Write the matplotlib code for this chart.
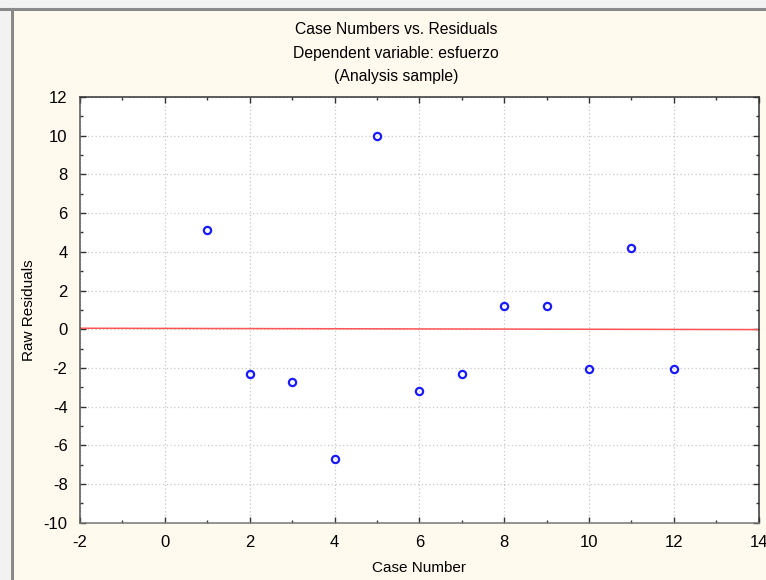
import matplotlib
matplotlib.use("Agg")
import matplotlib.pyplot as plt
from matplotlib.lines import Line2D
from matplotlib.ticker import MultipleLocator

# data
case_number = [1, 2, 3, 4, 5, 6, 7, 8, 9, 10, 11, 12]
raw_residuals = [5.14, -2.33, -2.71, -6.71, 9.98, -3.17, -2.33, 1.22, 1.22, -2.04, 4.18, -2.04]
fit_x = [-2, 14]
fit_y = [0.05, -0.02]

title_lines = ["Case Numbers vs. Residuals", "Dependent variable: esfuerzo", "(Analysis sample)"]

plt.rcParams['font.family'] = ['Liberation Sans', 'DejaVu Sans']
plt.rcParams['axes.unicode_minus'] = False

bg = '#fff9ee'
fig = plt.figure(figsize=(7.66, 5.80), dpi=100, facecolor=bg)

# window frame (light strip + gray border on top and left)
W, H = 766, 580
fig.patches.append(plt.Rectangle((0, 1 - 8 / H), 1, 8 / H, transform=fig.transFigure,
                                 facecolor='#f2f2f2', edgecolor='none', zorder=0))
fig.patches.append(plt.Rectangle((0, 0), 10 / W, 1, transform=fig.transFigure,
                                 facecolor='#f2f2f2', edgecolor='none', zorder=0))
fig.lines.append(Line2D([0, 1], [1 - 9 / H, 1 - 9 / H], transform=fig.transFigure,
                        color='#8a8a8a', lw=2.2))
fig.lines.append(Line2D([12 / W, 12 / W], [0, 1 - 9 / H], transform=fig.transFigure,
                        color='#8a8a8a', lw=2.2))

ax = fig.add_axes([80 / W, 1 - 522.7 / H, (758.7 - 80) / W, (522.7 - 97) / H])
ax.set_facecolor('white')

ax.plot(fit_x, fit_y, color='#ff5555', lw=1.1, zorder=2)
ax.plot(case_number, raw_residuals, 'o', markerfacecolor='none', markeredgecolor='#1a1aff',
        markersize=5.2, markeredgewidth=1.6, zorder=3)

ax.set_xlim(-2, 14)
ax.set_ylim(-10, 12)
ax.xaxis.set_major_locator(MultipleLocator(2))
ax.xaxis.set_minor_locator(MultipleLocator(1))
ax.yaxis.set_major_locator(MultipleLocator(2))
ax.yaxis.set_minor_locator(MultipleLocator(1))
ax.tick_params(which='both', direction='in', top=True, right=True, colors='#333333',
               labelcolor='black', labelsize=12)
ax.tick_params(which='major', length=4, width=1)
ax.tick_params(which='minor', length=2.5, width=1)
ax.tick_params(axis='x', pad=9)
ax.tick_params(axis='y', pad=9)
ax.grid(True, which='major', linestyle=(0, (1, 2)), color='#c8c8c8', lw=0.9)
ax.set_axisbelow(True)
for s in ax.spines.values():
    s.set_color('#333333')
    s.set_linewidth(1.1)
ax.spines['bottom'].set_color('#777777')
ax.spines['left'].set_color('#555555')

ax.set_xlabel('Case Number', fontsize=11, labelpad=8)
fig.text(29 / W, 1 - 310 / H, 'Raw Residuals', rotation=90, ha='center', va='center', fontsize=11)

for i, line in enumerate(title_lines):
    fig.text(396 / W, 1 - (30 + 23.5 * i) / H, line, ha='center', va='center', fontsize=11.3)

fig.savefig('out.png', dpi=100, facecolor=bg)
